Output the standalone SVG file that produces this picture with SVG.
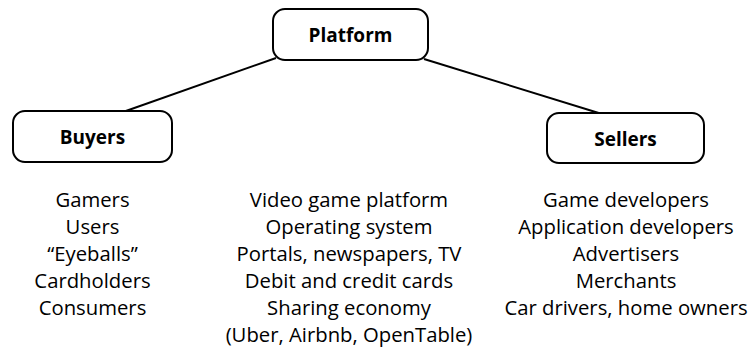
<svg xmlns="http://www.w3.org/2000/svg" width="751" height="351" viewBox="0 0 751 351">
<style>
.box{fill:#fff;stroke:#000;stroke-width:2}
.lbl{font-family:"Open Sans","Liberation Sans",sans-serif;font-weight:bold;font-size:19px;text-anchor:middle;fill:#000}
.item{font-family:"Open Sans","Liberation Sans",sans-serif;font-size:20.3px;text-anchor:middle;fill:#000}
.conn{stroke:#000;stroke-width:2;fill:none}
</style>
<rect width="751" height="351" fill="#fff"/>
<g id="connectors">
<line class="conn" x1="276" y1="58" x2="123" y2="112"/>
<line class="conn" x1="424" y1="59" x2="602" y2="114"/>
</g>
<g id="platform">
<rect class="box" x="273" y="9" width="155" height="51" rx="12"/>
<text class="lbl" x="350.5" y="42">Platform</text>
</g>
<g id="buyers">
<rect class="box" x="13" y="111" width="159" height="51" rx="12"/>
<text class="lbl" x="92.5" y="144">Buyers</text>
</g>
<g id="sellers">
<rect class="box" x="547" y="113" width="157" height="50" rx="12"/>
<text class="lbl" x="625.5" y="146">Sellers</text>
</g>
<g id="buyers-list">
<text class="item" x="92.5" y="207">Gamers</text>
<text class="item" x="92.5" y="234">Users</text>
<text class="item" x="92.5" y="261">“Eyeballs”</text>
<text class="item" x="92.5" y="288">Cardholders</text>
<text class="item" x="92.5" y="315">Consumers</text>
</g>
<g id="platform-list">
<text class="item" x="349" y="207">Video game platform</text>
<text class="item" x="349" y="234">Operating system</text>
<text class="item" x="349" y="261">Portals, newspapers, TV</text>
<text class="item" x="349" y="288">Debit and credit cards</text>
<text class="item" x="349" y="315">Sharing economy</text>
<text class="item" x="349" y="342">(Uber, Airbnb, OpenTable)</text>
</g>
<g id="sellers-list">
<text class="item" x="626" y="207">Game developers</text>
<text class="item" x="626" y="234">Application developers</text>
<text class="item" x="626" y="261">Advertisers</text>
<text class="item" x="626" y="288">Merchants</text>
<text class="item" x="626" y="315">Car drivers, home owners</text>
</g>
</svg>
